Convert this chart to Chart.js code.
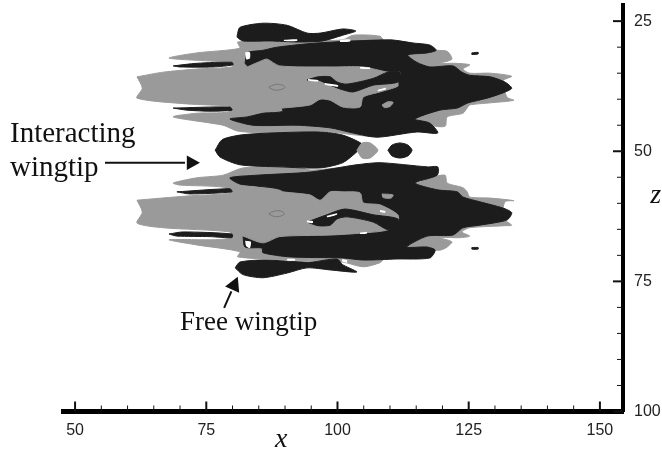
<!DOCTYPE html>
<html>
<head>
<meta charset="utf-8">
<title>Wingtip contours</title>
<script src="https://cdn.jsdelivr.net/npm/chart.js@4/dist/chart.umd.min.js"></script>
<style>
body { margin: 0; background: #fff; }
canvas { display: block; }
</style>
</head>
<body>
<canvas id="wingtipChart" width="662" height="451"></canvas>
<script>
// axis ticks, every fifth unit
const xTicks = [50, 55, 60, 65, 70, 75, 80, 85, 90, 95, 100, 105, 110, 115, 120, 125, 130, 135, 140, 145, 150];
const zTicks = [25, 30, 35, 40, 45, 50, 55, 60, 65, 70, 75, 80, 85, 90, 95, 100];

// contour outlines as [x, z]
const upperGray = [[61.8,35.7],[66.8,34.8],[73.2,34.2],[79.9,33.8],[80.1,32.9],[76.3,32.7],[67.9,32.1],[73.2,31.1],[81.4,30.2],[81.0,29.0],[92.3,28.8],[101.0,28.6],[103.0,27.7],[108.1,27.9],[109.1,29.0],[119.0,30.6],[120.9,30.8],[121.8,32.3],[119.5,33.1],[122.4,33.1],[125.2,33.4],[123.9,34.2],[125.2,35.0],[129.1,35.0],[133.2,35.6],[131.5,36.5],[132.3,39.6],[133.6,40.2],[129.1,40.7],[125.2,41.1],[124.7,41.7],[123.9,42.7],[120.9,43.4],[120.5,45.2],[117.6,45.0],[114.8,43.8],[111.9,45.5],[107.5,47.1],[103.7,46.9],[96.7,46.1],[94.2,46.7],[85.8,46.5],[80.9,46.1],[78.2,45.0],[68.7,43.4],[73.2,42.7],[79.0,42.5],[79.9,41.7],[79.5,41.3],[71.3,40.9],[61.8,39.8],[62.8,37.9]];
const upperDark = [[82.4,33.1],[82.8,31.1],[85.8,30.6],[88.5,30.0],[96.1,29.2],[110.0,28.6],[114.4,29.2],[117.6,29.6],[118.8,30.6],[117.1,31.1],[113.4,31.5],[115.1,32.9],[117.6,33.8],[122.0,33.6],[123.7,34.8],[125.2,35.4],[129.1,35.7],[131.9,36.7],[133.2,37.9],[131.5,38.8],[128.5,39.8],[124.9,40.7],[122.8,41.7],[119.5,42.1],[114.8,43.8],[117.6,44.6],[119.1,46.5],[115.1,46.3],[107.5,47.3],[103.0,46.5],[98.6,45.5],[92.3,45.0],[83.9,45.0],[79.5,43.8],[82.8,43.4],[85.8,42.7],[89.6,42.1]];
const upperChannel = [[82.8,33.8],[85.8,32.5],[86.6,32.3],[89.0,33.6],[98.6,33.8],[104.9,33.8],[109.6,34.8],[111.9,34.8],[111.5,36.7],[111.5,37.5],[108.1,38.6],[104.9,39.6],[104.3,41.5],[101.0,41.5],[98.6,40.2],[96.7,40.0],[94.8,41.1],[89.6,41.7],[82.8,42.7],[79.5,41.5],[79.5,38.2]];
const upperTongue = [[94.2,36.3],[96.3,35.7],[98.6,35.7],[99.9,36.7],[101.8,37.1],[106.8,36.0],[109.6,34.8],[111.9,34.8],[111.5,36.7],[106.8,37.3],[103.0,38.6],[101.0,38.2],[98.6,37.3],[96.3,36.3]];
const upperFingerA = [[68.7,33.6],[73.2,33.1],[79.9,32.9],[80.1,33.4],[76.3,33.8],[70.0,33.8]];
const upperFingerB = [[68.7,41.7],[79.5,41.5],[79.9,42.1],[75.7,42.3],[71.3,42.1]];
const upperTip = [[80.9,27.7],[81.4,26.2],[85.8,25.4],[90.4,25.8],[94.2,27.3],[96.7,27.3],[101.0,26.5],[103.5,26.9],[101.0,27.7],[97.2,28.8],[92.3,29.0],[87.1,28.8],[82.0,28.8],[80.9,28.1]];
const upperSpot = [[108.5,41.1],[109.6,40.5],[110.6,40.6],[110.0,41.4],[108.9,41.6]];
const upperChip = [[82.4,31.0],[83.3,31.0],[83.3,32.2],[82.6,32.3]];
const upperFleck = [[125.6,31.1],[126.8,31.0],[126.8,31.3],[125.6,31.4]];
const upperRing = [[86.9,37.7],[88.0,37.2],[89.2,37.2],[90.0,37.7],[89.0,38.2],[87.8,38.2]];
const upperSlivers = [
    [[89.8,28.6],[92.3,28.5],[92.3,28.8],[89.8,28.8]],
    [[100.5,28.6],[102.4,28.5],[102.4,28.9],[100.5,29.0]],
    [[104.3,33.8],[106.2,33.9],[106.2,34.2],[104.3,34.1]],
    [[94.4,36.1],[96.3,36.3],[96.3,36.6],[94.4,36.4]],
    [[97.6,36.9],[100.1,37.3],[100.1,37.6],[97.6,37.2]],
    [[107.7,38.2],[109.2,37.8],[109.2,38.1],[107.7,38.5]]
];

const centerCore = [[76.7,49.8],[78.0,47.8],[81.4,46.9],[87.1,46.5],[96.7,46.3],[101.0,46.9],[104.9,48.8],[103.7,50.1],[101.0,52.2],[96.7,53.2],[89.0,53.0],[81.4,52.6],[77.6,51.1]];
const centerCap = [[103.7,49.8],[104.7,48.4],[106.2,48.4],[107.7,49.8],[106.2,51.3],[104.7,51.3]];
const centerDot = [[109.6,49.8],[110.4,48.8],[111.9,48.4],[113.4,48.8],[114.2,49.8],[113.4,50.9],[111.9,51.3],[110.4,50.9]];

const lowerGray = [[61.8,59.4],[62.8,61.7],[61.8,63.8],[66.8,64.7],[79.5,65.5],[80.1,66.6],[76.3,67.0],[67.9,67.0],[73.2,68.0],[81.4,69.3],[81.0,70.3],[91.0,70.9],[101.0,71.3],[104.9,72.2],[108.1,71.4],[109.1,70.5],[113.2,69.0],[119.5,69.0],[120.9,68.4],[121.8,67.4],[119.5,66.6],[123.4,66.6],[125.2,66.3],[123.7,65.5],[125.2,64.7],[131.9,64.3],[133.2,64.2],[131.5,62.8],[131.9,59.7],[133.6,59.5],[129.1,59.0],[125.2,58.8],[124.7,57.8],[123.9,57.0],[120.9,56.1],[120.5,54.6],[117.6,55.1],[114.8,56.1],[111.9,54.0],[104.3,52.6],[99.9,53.2],[94.8,53.6],[92.3,53.0],[82.0,53.2],[78.2,54.6],[73.2,55.1],[68.7,56.1],[70.0,56.5],[78.2,56.9],[79.5,58.0],[71.3,58.6]];
const lowerDark = [[82.0,66.4],[82.4,68.4],[85.6,68.6],[85.8,69.5],[91.0,70.3],[101.0,70.5],[104.9,70.9],[111.3,70.7],[117.6,70.5],[118.6,69.0],[117.1,68.4],[113.2,68.4],[117.1,66.3],[122.0,66.1],[123.9,64.7],[127.1,64.2],[132.3,63.2],[133.2,61.8],[131.5,60.9],[127.1,59.7],[123.9,58.8],[122.8,57.8],[119.0,57.4],[114.8,56.1],[119.0,54.6],[119.1,53.0],[117.1,53.0],[108.1,52.2],[103.7,52.6],[94.8,54.0],[84.7,54.6],[79.5,55.1],[81.4,56.3],[89.6,57.8]];
const lowerChannel = [[79.5,57.4],[81.4,56.7],[84.7,56.9],[89.6,57.8],[94.8,58.4],[96.7,59.4],[98.6,57.8],[101.0,57.8],[104.3,58.0],[104.9,59.9],[108.1,60.3],[111.5,62.2],[111.5,63.6],[109.6,65.1],[104.9,65.7],[98.6,66.1],[89.0,66.4],[85.8,67.6],[82.0,66.3],[79.5,65.5]];
const lowerTongue = [[94.2,63.6],[98.0,62.2],[101.4,61.1],[106.8,62.2],[111.5,63.0],[111.5,64.7],[109.6,65.1],[106.8,63.6],[101.8,62.6],[99.9,63.0],[98.6,64.2],[96.3,64.3]];
const lowerFingerA = [[69.4,57.8],[79.5,57.2],[79.9,57.8],[71.9,58.2]];
const lowerFingerB = [[67.9,65.9],[70.6,65.5],[79.9,65.9],[79.9,66.6],[75.7,66.4],[69.4,66.3]];
const lowerTip = [[80.5,72.4],[81.4,71.3],[85.8,70.9],[94.8,71.3],[99.9,70.7],[101.0,71.8],[103.7,73.2],[98.6,72.8],[94.2,72.4],[90.4,73.4],[85.8,74.3],[82.0,73.7]];
const lowerSpot = [[108.5,58.2],[110.6,58.4],[110.2,59.0],[108.7,58.9]];
const lowerChip = [[82.4,67.2],[83.5,67.4],[83.3,68.6],[82.6,68.2]];
const lowerFleck = [[125.6,68.5],[126.8,68.5],[126.8,68.8],[125.6,68.8]];
const lowerRing = [[86.9,62.0],[88.0,61.5],[89.2,61.5],[89.9,62.0],[89.0,62.5],[87.8,62.5]];
const lowerSlivers = [
    [[90.4,70.7],[91.9,70.7],[91.9,71.0],[90.4,71.0]],
    [[100.9,70.7],[101.8,70.9],[101.8,71.4],[100.9,71.2]],
    [[104.3,65.6],[105.6,65.5],[105.6,65.8],[104.3,65.9]],
    [[94.2,63.3],[95.3,63.4],[95.3,63.8],[94.2,63.7]],
    [[98.0,62.4],[99.9,61.9],[99.9,62.2],[98.0,62.7]],
    [[108.1,61.3],[109.1,61.5],[109.1,61.8],[108.1,61.6]]
];

// annotation anchors in axis units
const interactingArrow = [[55.7, 52.2], [73.8, 52.2]];
const freeArrow = [[78.4, 80.1], [81.0, 74.1]];
const annotationLabels = [
    { text: 'Interacting', x: 37.6, z: 48.2, font: '29px "Liberation Serif"' },
    { text: 'wingtip', x: 37.6, z: 54.7, font: '29px "Liberation Serif"' },
    { text: 'Free wingtip', x: 70.0, z: 84.3, font: '27px "Liberation Serif"' },
    { text: 'x', x: 88.1, z: 106.9, font: 'italic 28px "Liberation Serif"' },
    { text: 'z', x: 159.6, z: 60.0, font: 'italic 28px "Liberation Serif"' }
];

const DARK = '#1c1c1c';
const GRAY = '#9a9a9a';
const WHITE = '#ffffff';

// bottom to top, later shapes paint over earlier ones
const shapes = [
    [upperGray, GRAY], [upperDark, DARK], [upperChannel, GRAY], [upperTongue, DARK],
    [upperFingerA, DARK], [upperFingerB, DARK], [upperTip, DARK], [upperSpot, GRAY],
    [upperChip, WHITE], [upperFleck, DARK],
    [lowerGray, GRAY], [lowerDark, DARK], [lowerChannel, GRAY], [lowerTongue, DARK],
    [lowerFingerA, DARK], [lowerFingerB, DARK], [lowerTip, DARK], [lowerSpot, GRAY],
    [lowerChip, WHITE], [lowerFleck, DARK],
    [centerCore, DARK], [centerCap, GRAY], [centerDot, DARK]
];
upperSlivers.concat(lowerSlivers).forEach(sliver => shapes.push([sliver, WHITE]));
const rings = [upperRing, lowerRing];

function toPoints(outline) {
    return outline.concat([outline[0]]).map(p => ({ x: p[0], y: p[1] }));
}

const datasets = shapes.map((shape, i) => ({
    data: toPoints(shape[0]),
    showLine: true,
    fill: 'shape',
    tension: 0.25,
    backgroundColor: shape[1],
    borderColor: shape[1],
    borderWidth: shape[1] === WHITE ? 0 : 1,
    pointRadius: 0,
    order: shapes.length - i + 2
}));
rings.forEach(ring => {
    datasets.push({
        data: toPoints(ring),
        showLine: true,
        fill: false,
        tension: 0.4,
        borderColor: '#777777',
        borderWidth: 1,
        pointRadius: 0,
        order: 0
    });
});

function drawArrow(ctx, scales, arrow, size) {
    const x0 = scales.x.getPixelForValue(arrow[0][0]);
    const y0 = scales.y.getPixelForValue(arrow[0][1]);
    const x1 = scales.x.getPixelForValue(arrow[1][0]);
    const y1 = scales.y.getPixelForValue(arrow[1][1]);
    const angle = Math.atan2(y1 - y0, x1 - x0);
    ctx.strokeStyle = '#111';
    ctx.fillStyle = '#111';
    ctx.lineWidth = 2;
    ctx.beginPath();
    ctx.moveTo(x0, y0);
    ctx.lineTo(x1 - size * Math.cos(angle), y1 - size * Math.sin(angle));
    ctx.stroke();
    ctx.beginPath();
    ctx.moveTo(x1, y1);
    ctx.lineTo(x1 - size * Math.cos(angle - 0.5), y1 - size * Math.sin(angle - 0.5));
    ctx.lineTo(x1 - size * Math.cos(angle + 0.5), y1 - size * Math.sin(angle + 0.5));
    ctx.closePath();
    ctx.fill();
}

// ticks point into the plot here, which the scale cannot do by itself
const annotationPlugin = {
    id: 'annotations',
    afterDraw(chart) {
        const { ctx, scales, chartArea } = chart;
        ctx.save();
        ctx.strokeStyle = '#111';
        scales.x.ticks.forEach(t => {
            const px = scales.x.getPixelForValue(t.value);
            const major = t.value % 25 === 0;
            ctx.lineWidth = major ? 2 : 1;
            ctx.beginPath();
            ctx.moveTo(px, chartArea.bottom);
            ctx.lineTo(px, chartArea.bottom - (major ? 10 : 6));
            ctx.stroke();
        });
        scales.y.ticks.forEach(t => {
            const py = scales.y.getPixelForValue(t.value);
            const major = t.value % 25 === 0;
            ctx.lineWidth = major ? 2 : 1;
            ctx.beginPath();
            ctx.moveTo(chartArea.right, py);
            ctx.lineTo(chartArea.right - (major ? 10 : 6), py);
            ctx.stroke();
        });

        drawArrow(ctx, scales, interactingArrow, 15);
        drawArrow(ctx, scales, freeArrow, 16);

        ctx.fillStyle = '#111';
        ctx.textAlign = 'left';
        ctx.textBaseline = 'alphabetic';
        annotationLabels.forEach(label => {
            ctx.font = label.font;
            ctx.fillText(label.text, scales.x.getPixelForValue(label.x), scales.y.getPixelForValue(label.z));
        });
        ctx.restore();
    }
};

function tickLabel(value) {
    return value % 25 === 0 ? String(value) : '';
}

// keep the plot box where the picture has it, labels may overhang
function fixPadding(scale) {
    scale.paddingLeft = 0;
    scale.paddingRight = 0;
    scale.paddingTop = 0;
    scale.paddingBottom = 0;
}

new Chart(document.getElementById('wingtipChart'), {
    type: 'scatter',
    data: { datasets: datasets },
    plugins: [annotationPlugin],
    options: {
        responsive: false,
        animation: false,
        layout: { padding: { left: 63, top: 5, right: 0, bottom: 0 } },
        plugins: { legend: { display: false }, tooltip: { enabled: false } },
        scales: {
            x: {
                type: 'linear',
                min: 47.7,
                max: 154.4,
                afterBuildTicks: scale => { scale.ticks = xTicks.map(v => ({ value: v })); },
                afterFit: scale => { scale.height = 39.5; fixPadding(scale); },
                grid: { drawOnChartArea: false, drawTicks: false },
                border: { color: '#000', width: 5 },
                ticks: {
                    autoSkip: false,
                    maxRotation: 0,
                    padding: 9,
                    color: '#222',
                    font: { family: '"Liberation Sans"', size: 16 },
                    callback: tickLabel
                }
            },
            y: {
                type: 'linear',
                position: 'right',
                reverse: true,
                min: 21.9,
                max: 100,
                afterBuildTicks: scale => { scale.ticks = zTicks.map(v => ({ value: v })); },
                afterFit: scale => { scale.width = 39; fixPadding(scale); },
                grid: { drawOnChartArea: false, drawTicks: false },
                border: { color: '#000', width: 4 },
                ticks: {
                    autoSkip: false,
                    padding: 11,
                    color: '#222',
                    font: { family: '"Liberation Sans"', size: 16 },
                    callback: tickLabel
                }
            }
        }
    }
});
</script>
</body>
</html>
